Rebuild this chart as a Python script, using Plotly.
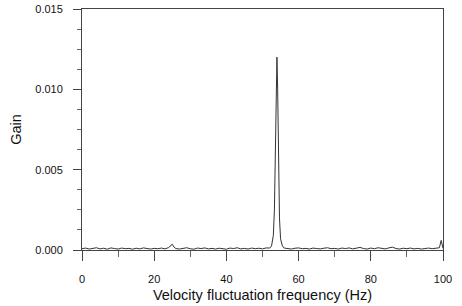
import plotly.graph_objects as go

freq = [0, 1, 2, 3, 4, 5, 6, 7, 8, 9, 10, 11, 12, 13, 14, 15, 16, 17, 18, 19,
        20, 21, 22, 23, 24, 24.5, 25, 25.5, 26, 27, 28, 29, 30, 31, 32, 33, 34, 35, 36, 37,
        38, 39, 40, 41, 42, 43, 44, 45, 46, 47, 48, 49, 50, 51, 52, 52.5, 53, 53.3, 53.6, 53.8,
        54, 54.2, 54.4, 54.7, 55, 55.5, 56, 57, 58, 59, 60, 61, 62, 63, 64, 65, 66, 67,
        68, 69, 70, 71, 72, 73, 74, 75, 76, 77, 78, 79, 80, 81, 82, 83, 84, 85, 86, 87,
        88, 89, 90, 91, 92, 93, 94, 95, 96, 97, 98, 98.5, 99, 99.5, 100]
gain = [0.00008, 0.00012, 0.00006, 0.00010, 0.00014, 0.00007, 0.00011, 0.00005, 0.00013, 0.00009,
        0.00006, 0.00012, 0.00008, 0.00010, 0.00005, 0.00011, 0.00007, 0.00013, 0.00009, 0.00006,
        0.00010, 0.00008, 0.00012, 0.00007, 0.00015, 0.00024, 0.00036, 0.00018, 0.00009, 0.00006,
        0.00011, 0.00014, 0.00008, 0.00005, 0.00012, 0.00009, 0.00013, 0.00007, 0.00010, 0.00006,
        0.00011, 0.00008, 0.00005, 0.00012, 0.00009, 0.00014, 0.00007, 0.00010, 0.00006, 0.00012,
        0.00008, 0.00011, 0.00007, 0.00013, 0.00012, 0.00025, 0.00090, 0.00250, 0.00700, 0.01050,
        0.01200, 0.01000, 0.00600, 0.00200, 0.00070, 0.00025, 0.00012, 0.00009, 0.00006, 0.00011,
        0.00013, 0.00008, 0.00010, 0.00006, 0.00012, 0.00009, 0.00007, 0.00011, 0.00014, 0.00008,
        0.00010, 0.00006, 0.00012, 0.00009, 0.00013, 0.00007, 0.00011, 0.00016, 0.00009, 0.00006,
        0.00012, 0.00008, 0.00014, 0.00010, 0.00007, 0.00013, 0.00018, 0.00009, 0.00006, 0.00011,
        0.00008, 0.00012, 0.00007, 0.00010, 0.00006, 0.00009, 0.00012, 0.00008, 0.00010, 0.00011,
        0.00014, 0.00060, 0.00010, 0.00008]

x_ticks = [0, 20, 40, 60, 80, 100]
y_ticks = [0.000, 0.005, 0.010, 0.015]
y_tick_text = ["0.000", "0.005", "0.010", "0.015"]

fig = go.Figure()
fig.add_trace(go.Scatter(x=freq, y=gain, mode="lines",
                         line=dict(color="#333333", width=1), showlegend=False,
                         cliponaxis=False))

font = dict(family="Liberation Sans, Arial, sans-serif", color="#111111")
fig.update_layout(
    width=462, height=306,
    margin=dict(l=82, r=19, t=9, b=56, autoexpand=False),
    paper_bgcolor="white", plot_bgcolor="white",
    font=font,
    xaxis=dict(range=[0, 100], tickvals=x_ticks, ticks="outside", ticklen=10,
               tickcolor="#444", tickwidth=1, showgrid=False, zeroline=False,
               showline=True, linecolor="#444", linewidth=1, mirror=True, automargin=False,
               tickfont=dict(size=11), ticklabelstandoff=9,
               title=dict(text="Velocity fluctuation frequency (Hz)",
                          font=dict(size=14.5), standoff=5),
               minor=dict(dtick=10, tick0=0, ticks="outside", ticklen=6, tickcolor="#666")),
    yaxis=dict(range=[0, 0.015], tickvals=y_ticks, ticktext=y_tick_text, ticks="outside",
               ticklen=8, tickcolor="#444", tickwidth=1, showgrid=False, zeroline=False,
               showline=True, linecolor="#444", linewidth=1, mirror=True, automargin=False,
               tickfont=dict(size=11), ticklabelstandoff=8,
               title=dict(text="Gain", font=dict(size=14.5), standoff=10),
               minor=dict(dtick=0.00125, tick0=0, ticks="outside", ticklen=4, tickcolor="#666")),
)
fig.write_html("out.html", config={"displayModeBar": False},
               post_script="document.body.style.margin='0';")
